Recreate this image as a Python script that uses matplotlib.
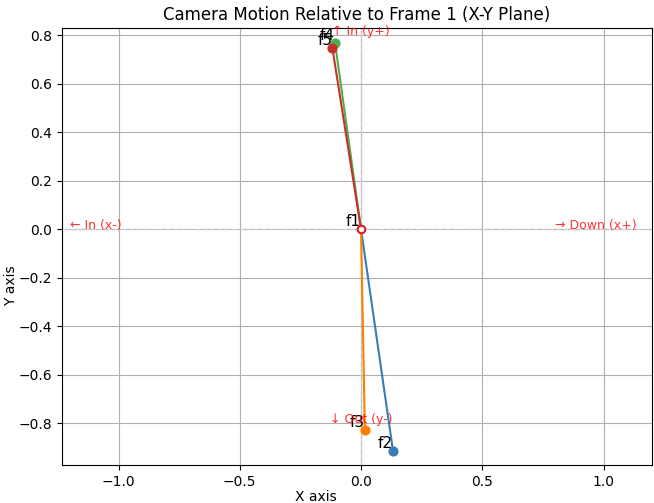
import numpy as np
import matplotlib.pyplot as plt

# camera positions relative to frame 1 (X-Y plane)
frames = ['f1', 'f2', 'f3', 'f4', 'f5']
xs = [0.0, 0.132, 0.016, -0.107, -0.118]
ys = [0.0, -0.915, -0.829, 0.767, 0.746]
colors = ['#e41a1c', '#377eb8', '#ff7f00', '#4daf4a', '#c9302c']

dir_labels = ['← In (x-)', '→ Down (x+)', '↑ In (y+)', '↓ Out (y-)']
dir_x = [-1.2, 0.8, 0.0, 0.0]
dir_y = [0.0, 0.0, 0.8, -0.8]
dir_ha = ['left', 'left', 'center', 'center']

fig = plt.figure(figsize=(6.54, 5.03), dpi=100)
ax = fig.add_axes([62 / 654, 38 / 503, 590 / 654, 437 / 503])

ax.axhline(0, color='lightgray', linestyle='--', linewidth=1)
ax.axvline(0, color='lightgray', linestyle='--', linewidth=1)

for i in range(1, len(frames)):
    ax.plot([xs[0], xs[i]], [ys[0], ys[i]], color=colors[i], linewidth=1.5)
    ax.scatter(xs[i], ys[i], color=colors[i], s=40, zorder=3)

ax.scatter(xs[0], ys[0], facecolor='white', edgecolor=colors[0], s=30, linewidth=1.5, zorder=4)

for f, x, y in zip(frames, xs, ys):
    ax.text(x, y, f, fontsize=11, ha='right', va='bottom')

# direction hints, nudged down a bit
for lab, x, y, ha in zip(dir_labels, dir_x, dir_y, dir_ha):
    ax.text(x, y - 0.012, lab, color='red', alpha=0.8, fontsize=9, ha=ha, va='bottom')

ax.set_xlim(-1.233, 1.2)
ax.set_ylim(-0.973, 0.829)
ax.set_xticks([-1.0, -0.5, 0.0, 0.5, 1.0])
ax.set_yticks(np.arange(-0.8, 0.81, 0.2))
ax.grid(True)
ax.set_title('Camera Motion Relative to Frame 1 (X-Y Plane)')
ax.set_xlabel('X axis')
ax.set_ylabel('Y axis')
ax.xaxis.set_label_coords(0.43, -0.058)
ax.yaxis.set_label_coords(-0.074, 0.41)

fig.savefig('out.png', dpi=100)
